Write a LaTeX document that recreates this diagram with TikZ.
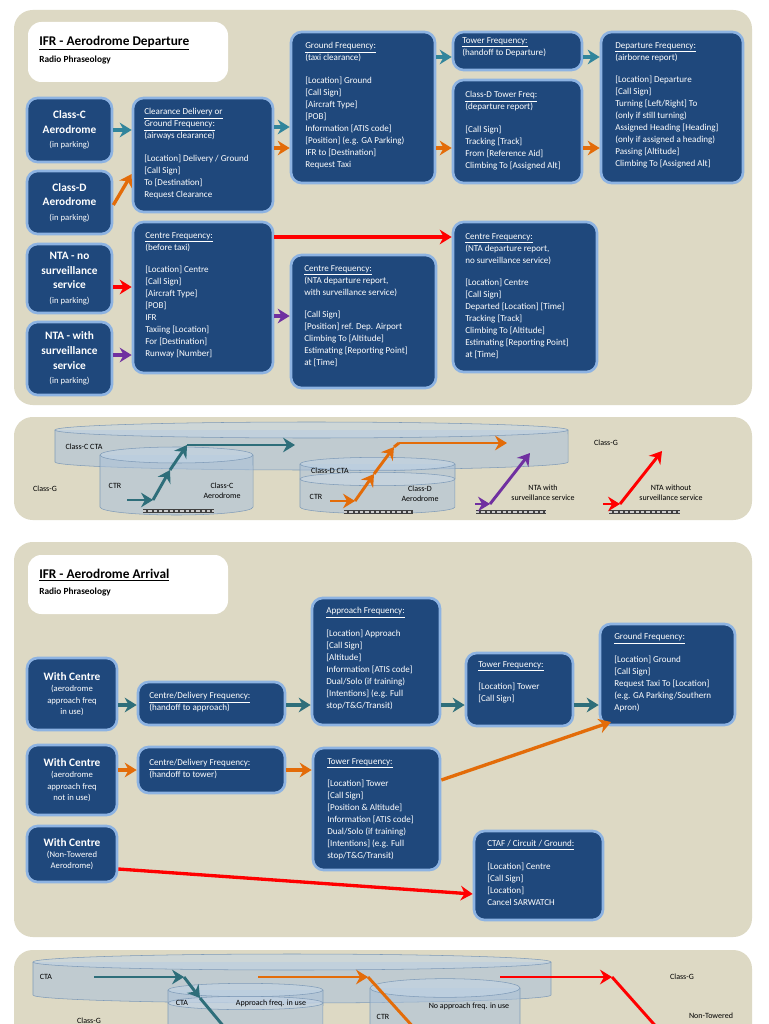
\documentclass[tikz,border=0pt]{standalone}
\usepackage{fontspec}
\setmainfont{Carlito}
\usetikzlibrary{arrows.meta,fit}
\definecolor{bg}{HTML}{DDD9C4}
\definecolor{boxb}{HTML}{1F487C}
\definecolor{boxe}{HTML}{8DB3E2}
\definecolor{teal}{HTML}{2E6E7A}
\definecolor{tealb}{HTML}{31859C}
\definecolor{org}{HTML}{E36C09}
\definecolor{purp}{HTML}{7030A0}
\definecolor{cylf}{HTML}{A9C1DA}
\definecolor{cyld}{HTML}{7F9BB8}
\newcommand\mycyl[6]{%
 \fill[cylf,fill opacity=.55] (#1,#3) rectangle (#2,#4);
 \fill[cylf,fill opacity=.55] (#1,#4) arc[start angle=180,end angle=360,x radius=#5pt,y radius=#6pt];
 \draw[cyld] (#1,#3)--(#1,#4) arc[start angle=180,end angle=360,x radius=#5pt,y radius=#6pt] -- (#2,#3);
 \draw[cyld,fill=cylf!70!white,fill opacity=.6] ({(#1+#2)/2},#3) ellipse[x radius=#5pt,y radius=#6pt];}
\newcommand\myrwy[2]{\draw[line width=3.5pt,draw=black!75] (#1)--(#2); \draw[line width=0.8pt,draw=white!80!black,dash pattern=on 2.5pt off 1.5pt] (#1)--(#2);}
\tikzset{x=0.75pt,y=-0.75pt,
 panel/.style={fill=bg,rounded corners=14pt,draw=none},
 tbox/.style={fill=white,rounded corners=10pt,draw=none},
 box/.style={fill=boxb,draw=boxe,line width=2pt,rounded corners=8pt,inner sep=0pt},
 txt/.style={text=white,align=left,anchor=north west,inner sep=0pt,font=\fontsize{6.8}{9}\selectfont},
 big/.style={text=white,align=center,inner sep=0pt,font=\fontsize{8.5}{11}\selectfont},
 sml/.style={text=white,align=center,inner sep=0pt,font=\fontsize{6.5}{8.5}\selectfont},
 lab/.style={inner sep=0pt,font=\fontsize{6}{7.5}\selectfont,align=center},
 arr/.style={line width=2.5pt,-{Stealth[length=9pt,width=11pt,inset=3pt]}}}
\newcommand\bx[5]{\node[box,fit={(#2,#3)(#4,#5)}] (#1) {};}
\newcommand\hd[1]{{\fontsize{8.5}{10}\selectfont\textbf{#1}}}
\begin{document}
\begin{tikzpicture}
\useasboundingbox (0,0) rectangle (768,1024);
\fill[white] (0,0) rectangle (768,1024);
% ===== Departure panel
\fill[panel] (14,10) rectangle (752,405);
\fill[tbox] (28,22) rectangle (228,82);
\node[anchor=north west,inner sep=0pt,font=\bfseries\fontsize{10}{12}\selectfont] (t1) at (39,36) {\underline{IFR - Aerodrome Departure}};
\node[anchor=north west,inner sep=0pt,font=\bfseries\fontsize{7}{9}\selectfont] (t1b) at (39,56) {Radio Phraseology};
\bx{cc}{27}{98}{112}{162}\node[big] at (cc) {\textbf{Class-C}\\\textbf{Aerodrome}\\{\fontsize{6.5}{9}\selectfont(in parking)}};
\bx{cd}{27}{171}{112}{234}\node[big] at (cd) {\textbf{Class-D}\\\textbf{Aerodrome}\\{\fontsize{6.5}{9}\selectfont(in parking)}};
\bx{nn}{27}{244}{112}{313}\node[big] at (nn) {\textbf{NTA - no}\\\textbf{surveillance}\\\textbf{service}\\{\fontsize{6.5}{9}\selectfont(in parking)}};
\bx{nw}{27}{322}{112}{395}\node[big] at (nw) {\textbf{NTA  - with}\\\textbf{surveillance}\\\textbf{service}\\{\fontsize{6.5}{9}\selectfont(in parking)}};
\bx{cl}{133}{98}{273}{212}\node[txt] at (144,108) {\underline{Clearance Delivery or}\\\underline{Ground Frequency:}\\(airways clearance)\\[8pt][Location] Delivery / Ground\\{}[Call Sign]\\To [Destination]\\Request Clearance};
\bx{gf}{291}{32}{435}{183}\node[txt] at (305,42) {\underline{Ground Frequency:}\\(taxi clearance)\\[8pt][Location] Ground\\{}[Call Sign]\\{}[Aircraft Type]\\{}[POB]\\Information [ATIS code]\\{}[Position] (e.g. GA Parking)\\IFR to [Destination]\\Request Taxi};
\bx{tf}{453}{32}{582}{70}\node[txt] at (462,37) {\underline{Tower Frequency:}\\(handoff to Departure)};
\bx{dt}{453}{80}{582}{183}\node[txt] at (465,91) {\underline{Class-D Tower Freq:}\\(departure report)\\[8pt][Call Sign]\\Tracking [Track]\\From [Reference Aid]\\Climbing To [Assigned Alt]};
\bx{df}{601}{32}{743}{183}\node[txt] at (615,42) {\underline{Departure Frequency:}\\(airborne report)\\[8pt][Location] Departure\\{}[Call Sign]\\Turning [Left/Right] To\\(only if still turning)\\Assigned Heading [Heading]\\(only if assigned a heading)\\Passing [Altitude]\\Climbing To [Assigned Alt]};
\bx{cb}{133}{222}{273}{373}\node[txt] at (145,232) {\underline{Centre Frequency:}\\(before taxi)\\[8pt][Location] Centre\\{}[Call Sign]\\{}[Aircraft Type]\\{}[POB]\\IFR\\Taxiing [Location]\\For [Destination]\\Runway [Number]};
\bx{cw}{291}{255}{436}{388}\node[txt] at (304,265) {\underline{Centre Frequency:}\\(NTA departure report,\\with surveillance service)\\[8pt][Call Sign]\\{}[Position] ref. Dep. Airport\\Climbing To [Altitude]\\Estimating [Reporting Point]\\at [Time]};
\bx{cn}{453}{222}{597}{372}\node[txt] at (465,233) {\underline{Centre Frequency:}\\(NTA departure report,\\no surveillance service)\\[8pt][Location] Centre\\{}[Call Sign]\\Departed [Location] [Time]\\Tracking [Track]\\Climbing To [Altitude]\\Estimating [Reporting Point]\\at [Time]};
\draw[arr,tealb] (cc.east|-0,130) -- (cl.west|-0,130);
\draw[arr,org] (cd.east|-0,205) -- (cl.west|-0,174);
\draw[arr,tealb] (cl.east|-0,127) -- (gf.west|-0,127);
\draw[arr,org] (cl.east|-0,148) -- (gf.west|-0,148);
\draw[arr,tealb] (gf.east|-0,57) -- (tf.west|-0,57);
\draw[arr,org] (gf.east|-0,148) -- (dt.west|-0,148);
\draw[arr,tealb] (tf.east|-0,57) -- (df.west|-0,57);
\draw[arr,org] (dt.east|-0,148) -- (df.west|-0,148);
\draw[arr,red] (nn.east|-0,287) -- (cb.west|-0,287);
\draw[arr,purp] (nw.east|-0,355) -- (cb.west|-0,355);
\draw[arr,purp] (cb.east|-0,316) -- (cw.west|-0,316);
\draw[arr,red] (cb.east|-0,237) -- (cn.west|-0,237);
% ===== Airspace panel 1
\fill[panel] (14,417) rectangle (752,520);
\mycyl{55}{568}{430}{462}{192.4}{6}
\mycyl{100}{253}{455}{507}{57.4}{6}
\mycyl{300}{455}{464}{507}{58.1}{5}
\draw[cyld,fill=cylf!60!white,fill opacity=.5] (377.5,479) ellipse[x radius=58.1pt,y radius=5pt];
\coordinate (r1) at (143,511); \coordinate (r2) at (214,511); \myrwy{r1}{r2}
\coordinate (r3) at (344,512); \coordinate (r4) at (413,512); \myrwy{r3}{r4}
\coordinate (r5) at (476,512); \coordinate (r6) at (546,512); \myrwy{r5}{r6}
\coordinate (r7) at (609,512); \coordinate (r8) at (680,512); \myrwy{r7}{r8}
\node[lab] at (84,447) {Class-C CTA}; \node[lab] at (45,489) {Class-G};
\node[lab] at (115,486) {CTR}; \node[lab] at (222,491) {Class-C\\Aerodrome};
\node[lab] at (330,471) {Class-D CTA}; \node[lab] at (316,497) {CTR};
\node[lab] at (420,494) {Class-D\\Aerodrome}; \node[lab] at (606,443) {Class-G};
\node[lab] at (543,493) {NTA with\\surveillance service}; \node[lab] at (671,493) {NTA without\\surveillance service};
\coordinate (a1) at (127,500); \coordinate (a2) at (153,500); \coordinate (a3) at (170,470); \coordinate (a4) at (187,445); \coordinate (a5) at (295,445);
\draw[arr,teal,line width=2.2pt] (a1)--(a2); \draw[arr,teal,line width=2.2pt] (a2)--(a3); \draw[arr,teal,line width=2.2pt] (a3)--(a4); \draw[arr,teal,line width=2.2pt] (a4)--(a5);
\coordinate (b1) at (330,501); \coordinate (b2) at (355,501); \coordinate (b3) at (374,474); \coordinate (b4) at (394,447); \coordinate (b5) at (399,443); \coordinate (b6) at (507,443);
\draw[arr,org,line width=2.2pt] (b1)--(b2); \draw[arr,org,line width=2.2pt] (b2)--(b3); \draw[arr,org,line width=2.2pt] (b3)--(b4); \draw[line width=2.2pt,org] (b4)--(b5); \draw[arr,org,line width=2.2pt] (b5)--(b6);
\coordinate (c1) at (475,504); \coordinate (c2) at (490,504); \coordinate (c3) at (530,453);
\draw[arr,purp,line width=2.2pt] (c1)--(c2); \draw[arr,purp,line width=2.2pt] (c2)--(c3);
\coordinate (d1) at (603,504); \coordinate (d2) at (620,504); \coordinate (d3) at (662,451);
\draw[arr,red,line width=2.2pt] (d1)--(d2); \draw[arr,red,line width=2.2pt] (d2)--(d3);
% ===== Arrival panel
\fill[panel] (14,542) rectangle (752,937);
\fill[tbox] (28,555) rectangle (228,614);
\node[anchor=north west,inner sep=0pt,font=\bfseries\fontsize{10}{12}\selectfont] (t2) at (39,569) {\underline{IFR - Aerodrome Arrival}};
\node[anchor=north west,inner sep=0pt,font=\bfseries\fontsize{7}{9}\selectfont] (t2b) at (39,588) {Radio Phraseology};
\bx{w1}{27}{658}{117}{730}\node[sml] at (w1) {\hd{With Centre}\\(aerodrome\\approach freq\\in use)};
\bx{w2}{27}{745}{117}{815}\node[sml] at (w2) {\hd{With Centre}\\(aerodrome\\approach freq\\not in use)};
\bx{w3}{27}{826}{117}{882}\node[sml] at (w3) {\hd{With Centre}\\(Non-Towered\\Aerodrome)};
\bx{d1b}{138}{682}{285}{725}\node[txt] at (149,692) {\underline{Centre/Delivery Frequency:}\\(handoff to approach)};
\bx{d2b}{138}{747}{285}{793}\node[txt] at (149,759) {\underline{Centre/Delivery Frequency:}\\(handoff to tower)};
\bx{ap}{312}{598}{440}{725}\node[txt] at (326,607) {\underline{Approach Frequency:}\\[8pt][Location] Approach\\{}[Call Sign]\\{}[Altitude]\\Information [ATIS code]\\Dual/Solo (if training)\\{}[Intentions] (e.g. Full\\stop/T\&G/Transit)};
\bx{tw}{466}{653}{573}{726}\node[txt] at (478,661) {\underline{Tower Frequency:}\\[8pt][Location] Tower\\{}[Call Sign]};
\bx{gr}{600}{624}{735}{725}\node[txt] at (614,633) {\underline{Ground Frequency:}\\[8pt][Location] Ground\\{}[Call Sign]\\Request Taxi To [Location]\\(e.g. GA Parking/Southern\\Apron)};
\bx{tw2}{313}{748}{440}{870}\node[txt] at (327,758) {\underline{Tower Frequency:}\\[8pt][Location] Tower\\{}[Call Sign]\\{}[Position \& Altitude]\\Information [ATIS code]\\Dual/Solo (if training)\\{}[Intentions] (e.g. Full\\stop/T\&G/Transit)};
\bx{ct}{474}{831}{603}{920}\node[txt] at (487,840) {\underline{CTAF / Circuit / Ground:}\\[8pt][Location] Centre\\{}[Call Sign]\\{}[Location]\\Cancel SARWATCH};
\draw[arr,teal] (w1.east|-0,705) -- (d1b.west|-0,705);
\draw[arr,teal] (d1b.east|-0,705) -- (ap.west|-0,705);
\draw[arr,teal] (ap.east|-0,705) -- (tw.west|-0,705);
\draw[arr,teal] (tw.east|-0,705) -- (gr.west|-0,705);
\draw[arr,org] (w2.east|-0,770) -- (d2b.west|-0,770);
\draw[arr,org] (d2b.east|-0,770) -- (tw2.west|-0,770);
\draw[arr,org] (tw2.east|-0,780) -- (611,722);
\draw[arr,red] (w3.east|-0,869) -- (ct.west|-0,894);
% ===== Airspace panel 2
\begin{scope}
\clip (0,940) rectangle (768,1024);
\fill[panel] (14,950) rectangle (752,1060);
\mycyl{33}{551}{962}{995}{194.25}{6}
\mycyl{168}{323}{990}{1040}{58.1}{5}
\draw[cyld,fill=cylf!60!white,fill opacity=.5] (245.5,1003) ellipse[x radius=58.1pt,y radius=5pt];
\mycyl{370}{520}{988}{1040}{56.25}{7}
\node[lab] at (46,977) {CTA}; \node[lab] at (682,977) {Class-G};
\node[lab] at (182,1003) {CTA}; \node[lab] at (271,1003) {Approach freq. in use};
\node[lab] at (469,1006) {No approach freq. in use}; \node[lab] at (383,1017) {CTR};
\node[lab] at (89,1021) {Class-G}; \node[lab] at (711,1016) {Non-Towered};
\coordinate (e1) at (94,977); \coordinate (e2) at (184,977); \coordinate (e3) at (200,998); \coordinate (e4) at (235,1040);
\draw[arr,teal,line width=2.2pt] (e1)--(e2); \draw[arr,teal,line width=2.2pt] (e2)--(e3); \draw[teal,line width=2.2pt] (e3)--(e4);
\coordinate (f1) at (258,977); \coordinate (f2) at (368,977); \coordinate (f3) at (425,1040);
\draw[arr,org,line width=2.2pt] (f1)--(f2); \draw[org,line width=2.2pt] (f2)--(f3);
\coordinate (g1) at (500,977); \coordinate (g2) at (612,977); \coordinate (g3) at (668,1040);
\draw[arr,red,line width=2.2pt] (g1)--(g2); \draw[red,line width=2.2pt] (g2)--(g3);
\end{scope}
\end{tikzpicture}
\end{document}
